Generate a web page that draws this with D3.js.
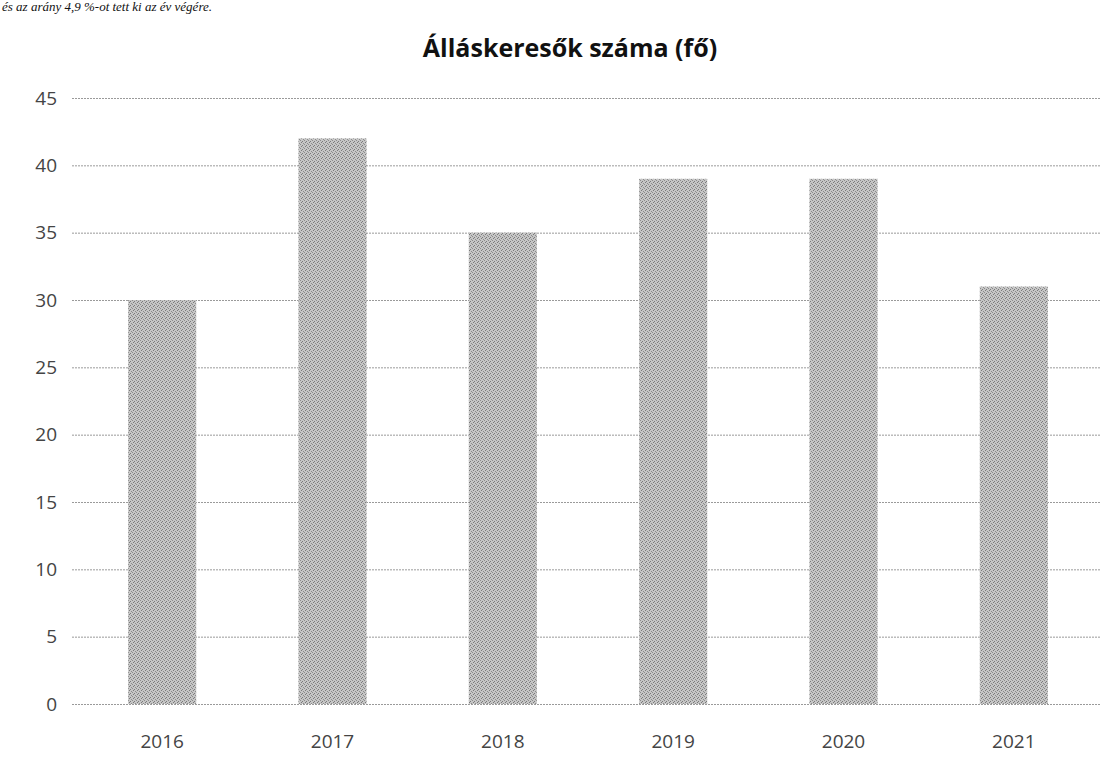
<!DOCTYPE html>
<meta charset="utf-8">
<script src="https://d3js.org/d3.v7.min.js"></script>
<style>
  body { margin: 0; background: #fff; }
</style>
<div id="my_dataviz"></div>
<script>
// data
var years = ["2016", "2017", "2018", "2019", "2020", "2021"];
var jobseekers = [30, 42, 35, 39, 39, 31];
var yTicks = [0, 5, 10, 15, 20, 25, 30, 35, 40, 45];
var chartTitle = "Álláskeresők száma (fő)";
var pageText = "és az arány 4,9 %-ot tett ki az év végére.";

var W = 1113, H = 761;
var margin = {top: 98, right: 14, bottom: 57, left: 77},
    width = W - margin.left - margin.right,
    height = H - margin.top - margin.bottom;

var svg = d3.select("#my_dataviz")
  .append("svg")
    .attr("width", W)
    .attr("height", H);

// the line of page text above the chart (scan edge)
svg.append("text")
  .attr("x", 2)
  .attr("y", 11)
  .style("font-family", "'Liberation Serif', serif")
  .style("font-style", "italic")
  .style("font-size", "13px")
  .style("fill", "#111")
  .text(pageText);

// dither-like texture for the bars
var defs = svg.append("defs");
var pat = defs.append("pattern")
  .attr("id", "dots")
  .attr("width", 4).attr("height", 4)
  .attr("patternUnits", "userSpaceOnUse");
pat.append("rect").attr("width", 4).attr("height", 4).attr("fill", "#c6c6c6");
[[0, 0], [2, 1], [1, 3], [3, 2]].forEach(function(p, i) {
  pat.append("rect")
    .attr("x", p[0]).attr("y", p[1])
    .attr("width", 1).attr("height", 1)
    .attr("fill", i % 2 ? "#8c8c8c" : "#7a7a7a");
});

var g = svg.append("g")
  .attr("transform", "translate(" + margin.left + "," + margin.top + ")");

var x = d3.scaleBand()
  .domain(years)
  .range([0, width])
  .paddingInner(0.6)
  .paddingOuter(0.3);

var y = d3.scaleLinear()
  .domain([0, 45])
  .range([height, 0]);

// gridlines
g.selectAll(".grid")
  .data(yTicks)
  .enter()
  .append("line")
    .attr("x1", -5)
    .attr("x2", width + 1)
    .attr("y1", function(d) { return y(d) + 0.5; })
    .attr("y2", function(d) { return y(d) + 0.5; })
    .attr("stroke", "#9a9a9a")
    .attr("stroke-width", 1)
    .attr("stroke-dasharray", "2,1");

// y axis labels
var yAxis = g.append("g")
  .attr("transform", "translate(-20,0)")
  .call(d3.axisLeft(y).tickValues(yTicks).tickSize(0).tickPadding(0));
yAxis.select(".domain").remove();
yAxis.selectAll("text")
  .style("font-family", "'Open Sans', sans-serif")
  .style("font-size", "19px")
  .style("fill", "#444");

// bars
g.selectAll(".bar")
  .data(jobseekers)
  .enter()
  .append("rect")
    .attr("x", function(d, i) { return x(years[i]); })
    .attr("y", function(d) { return y(d); })
    .attr("width", x.bandwidth())
    .attr("height", function(d) { return height - y(d); })
    .attr("fill", "url(#dots)");

// x axis labels
var xAxis = g.append("g")
  .attr("transform", "translate(0," + (height + 30) + ")")
  .call(d3.axisBottom(x).tickSize(0).tickPadding(0));
xAxis.select(".domain").remove();
xAxis.selectAll("text")
  .style("font-family", "'Open Sans', sans-serif")
  .style("font-size", "19px")
  .style("fill", "#444");

// title
svg.append("text")
  .attr("x", 570)
  .attr("y", 57)
  .attr("text-anchor", "middle")
  .style("font-family", "'Open Sans', sans-serif")
  .style("font-weight", "bold")
  .style("font-size", "25px")
  .style("fill", "#111")
  .text(chartTitle);
</script>
